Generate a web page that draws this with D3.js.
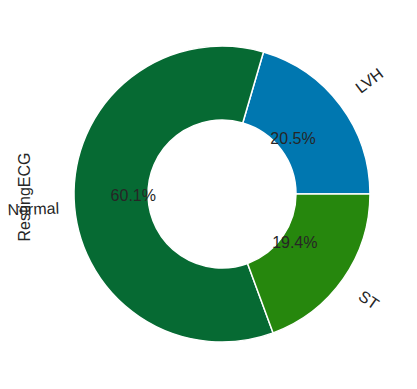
<!DOCTYPE html>
<html><head><meta charset="utf-8">
<script src="https://cdn.jsdelivr.net/npm/d3@7"></script>
<style>body{margin:0;background:#fff}</style>
</head><body>
<svg id="c" width="417" height="389"></svg>
<script>
const categories = ["LVH", "Normal", "ST"];
const values = [188, 552, 178];
const colors = ["#0077b0", "#066a33", "#26870d"];
const yLabel = "RestingECG";

const svg = d3.select("#c");
const cx = 222, cy = 194, R = 148, r0 = 74;
const total = d3.sum(values);
const font = "'Liberation Sans', Arial, sans-serif";
const fs = 16;

// matplotlib: start at 3 o'clock, counterclockwise. d3: 0 at 12 o'clock clockwise.
const pie = d3.pie().sort(null).value(d => d)
  .startAngle(Math.PI / 2).endAngle(Math.PI / 2 - 2 * Math.PI);
const arcs = pie(values);
const arc = d3.arc().innerRadius(r0).outerRadius(R);
const g = svg.append("g").attr("transform", `translate(${cx},${cy})`);

g.selectAll("path").data(arcs).join("path")
  .attr("d", arc)
  .attr("fill", (d, i) => colors[i])
  .attr("stroke", "#fff").attr("stroke-width", 1.5).attr("stroke-linejoin", "miter");

arcs.forEach((d, i) => {
  const mid = (d.startAngle + d.endAngle) / 2; // d3 angle
  const theta = Math.PI / 2 - mid; // math angle, ccw from x-axis
  const deg = ((theta * 180 / Math.PI) % 360 + 360) % 360;
  const xt = Math.cos(theta), yt = -Math.sin(theta);
  // percentage
  g.append("text")
    .attr("x", 0.6 * R * xt).attr("y", 0.6 * R * yt + 3.5)
    .attr("text-anchor", "middle")
    .attr("font-family", font).attr("font-size", fs).attr("fill", "#262626")
    .text((values[i] / total * 100).toFixed(1) + "%");
  // label: rotate, then align rotated bbox (matplotlib rotation_mode default)
  const lx = 1.1 * R * xt, ly = 1.1 * R * yt;
  let rot = deg + (xt > 0 ? 0 : 180);
  const lg = g.append("g").attr("transform", `translate(${lx},${ly})`);
  const inner = lg.append("g");
  inner.append("text")
    .attr("transform", `rotate(${-rot})`)
    .attr("font-family", font).attr("font-size", fs).attr("fill", "#262626")
    .text(categories[i]);
  const bb = inner.node().getBBox();
  const dx = xt > 0 ? -bb.x : -(bb.x + bb.width);
  const dy = yt < 0 ? -(bb.y + bb.height) : -bb.y; // svg y: yt<0 means above -> align bottom
  inner.attr("transform", `translate(${dx},${dy})`);
});

svg.append("text")
  .attr("transform", `translate(30,${cy + 3}) rotate(-90)`)
  .attr("text-anchor", "middle")
  .attr("font-family", font).attr("font-size", fs).attr("fill", "#262626")
  .text(yLabel);
</script>
</body></html>
